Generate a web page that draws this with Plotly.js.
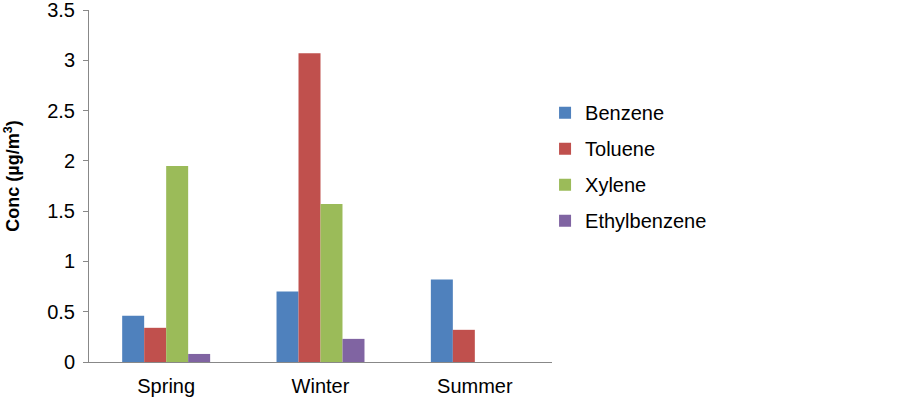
<!DOCTYPE html>
<html>
<head>
<meta charset="utf-8">
<script src="https://cdn.plot.ly/plotly-3.0.1.min.js"></script>
<style>body{margin:0;background:#fff}#chart{width:899px;height:402px}</style>
</head>
<body>
<div id="chart"></div>
<script>
let seasons = ['Spring', 'Winter', 'Summer'];
let benzene = [0.46, 0.70, 0.82];
let toluene = [0.34, 3.07, 0.32];
let xylene = [1.95, 1.57, 0];
let ethylbenzene = [0.08, 0.23, 0];

let names = ['Benzene', 'Toluene', 'Xylene', 'Ethylbenzene'];
let colors = ['#4F81BD', '#C0504D', '#9BBB59', '#8064A2'];
let series = [benzene, toluene, xylene, ethylbenzene];

let traces = series.map((vals, i) => ({
  x: seasons,
  y: vals,
  name: names[i],
  legendgroup: names[i],
  type: 'bar',
  marker: {color: colors[i], line: {width: 0}}
}));

let layout = {
  width: 899,
  height: 402,
  margin: {l: 89, r: 347, t: 10, b: 40},
  paper_bgcolor: '#fff',
  plot_bgcolor: '#fff',
  font: {family: 'Liberation Sans, Arial, sans-serif', size: 20, color: '#000'},
  barmode: 'group',
  bargap: 0.43,
  bargroupgap: 0,
  showlegend: true,
  legend: {
    x: 0.985, y: 0.555, xanchor: 'left', yanchor: 'middle',
    traceorder: 'grouped', tracegroupgap: 7,
    font: {size: 20}, itemwidth: 30
  },
  xaxis: {
    showline: true, linecolor: '#888', linewidth: 1,
    ticks: '', showgrid: false, zeroline: false,
    ticklabelstandoff: 6
  },
  yaxis: {
    range: [0, 3.5], dtick: 0.5,
    showline: true, linecolor: '#888', linewidth: 1,
    ticks: 'outside', ticklen: 5, tickcolor: '#888',
    showgrid: false, zeroline: false,
    ticklabelstandoff: 4, ticklabeloverflow: 'allow',
    // leading no-break spaces nudge the rotated title up a little, as in the original
    title: {text: '<b>\u00a0\u00a0\u00a0\u00a0Conc (µg/m<sup>3</sup>)</b>', font: {size: 18}, standoff: 22}
  }
};

Plotly.newPlot('chart', traces, layout, {displayModeBar: false, staticPlot: true});
</script>
</body>
</html>
